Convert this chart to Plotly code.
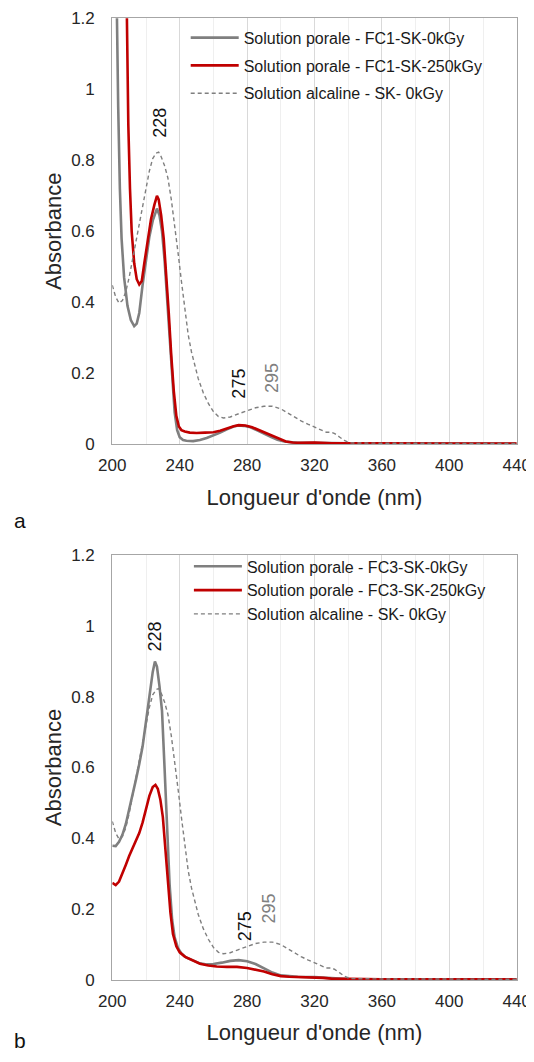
import plotly.graph_objects as go

# ---------------- Data ----------------
# (a) Solution porale - FC1-SK-0kGy
wl_fc1_0 = [201, 202.6, 203.5, 204.5, 205.5, 207, 209, 211, 213, 214.5, 216, 218, 220, 222, 224,
            225.5, 226.5, 228, 229.5, 231, 232.5, 234, 235.5, 237, 238.5, 240, 242, 244, 248, 252,
            256, 260, 264, 268, 272, 275, 278, 282, 286, 290, 294, 298, 302, 306, 310, 320, 330,
            340, 360, 380, 400, 420, 440]
abs_fc1_0 = [1.8, 1.2, 0.95, 0.72, 0.58, 0.47, 0.39, 0.35, 0.333, 0.34, 0.37, 0.45, 0.52, 0.585, 0.63,
             0.655, 0.664, 0.645, 0.6, 0.52, 0.41, 0.29, 0.18, 0.09, 0.04, 0.02, 0.012, 0.01, 0.009, 0.012,
             0.018, 0.025, 0.033, 0.042, 0.05, 0.053, 0.052, 0.048, 0.04, 0.03, 0.021, 0.013, 0.008, 0.005, 0.004, 0.004, 0.003,
             0.003, 0.003, 0.003, 0.002, 0.002, 0.002]

# (a) Solution porale - FC1-SK-250kGy
wl_fc1_250 = [207, 208.7, 209.5, 210.5, 211.5, 213, 214.5, 216, 217.5, 219, 221, 223, 225, 226.5, 227.5,
              229, 230.5, 232, 233.5, 235, 236.5, 238, 239.5, 241, 243, 246, 250, 255, 260, 264, 268,
              272, 275, 279, 283, 287, 291, 295, 299, 303, 307, 312, 320, 324, 330, 340, 350, 360,
              370, 380, 400, 420, 440]
abs_fc1_250 = [1.8, 1.2, 0.9, 0.72, 0.6, 0.51, 0.465, 0.45, 0.46, 0.51, 0.58, 0.635, 0.675, 0.70, 0.69,
               0.645, 0.58, 0.48, 0.37, 0.25, 0.15, 0.08, 0.05, 0.04, 0.036, 0.033, 0.032, 0.033, 0.034, 0.038, 0.045,
               0.051, 0.054, 0.053, 0.048, 0.04, 0.031, 0.022, 0.014, 0.008, 0.005, 0.004, 0.005, 0.004, 0.003, 0.003, 0.004, 0.003,
               0.003, 0.002, 0.002, 0.002, 0.002]

# (a) and (b) Solution alcaline - SK- 0kGy
wl_alc = [200, 202, 204, 206, 208, 210, 212, 214, 216, 218, 220, 222, 224, 226, 227.5, 229, 231, 233,
          235, 237, 239, 241, 243, 245, 247, 249, 251, 254, 257, 260, 263, 266, 270, 275, 280, 285,
          290, 295, 300, 304, 308, 312, 316, 320, 324, 327, 330, 332, 335, 338, 341, 350, 360, 380,
          400, 420, 440]
abs_alc = [0.448, 0.415, 0.398, 0.405, 0.43, 0.47, 0.52, 0.57, 0.62, 0.67, 0.72, 0.77, 0.805, 0.82, 0.823,
           0.81, 0.785, 0.75, 0.69, 0.62, 0.54, 0.46, 0.38, 0.31, 0.26, 0.22, 0.185, 0.145, 0.115, 0.092, 0.078,
           0.074, 0.077, 0.086, 0.095, 0.103, 0.107, 0.107, 0.1, 0.088, 0.076, 0.066, 0.057, 0.048, 0.04, 0.034,
           0.034, 0.03, 0.02, 0.01, 0.004, 0.003, 0.003, 0.003, 0.002, 0.002, 0.002]

# (b) Solution porale - FC3-SK-0kGy
wl_fc3_0 = [200, 202, 204, 206, 208, 210, 212, 214, 216, 218, 220, 222, 224, 225.3, 226.5, 228, 229.5,
            231, 232.5, 234, 235.5, 237, 239, 241, 244, 248, 252, 256, 260, 265, 270, 275, 280, 285,
            290, 295, 300, 305, 310, 320, 330, 340, 360, 380, 400, 420, 440]
abs_fc3_0 = [0.379, 0.378, 0.39, 0.41, 0.44, 0.48, 0.52, 0.565, 0.61, 0.66, 0.73, 0.8, 0.87, 0.899, 0.885,
             0.83, 0.76, 0.6, 0.42, 0.27, 0.17, 0.12, 0.09, 0.075, 0.063, 0.054, 0.047, 0.044, 0.045, 0.049,
             0.054, 0.056, 0.053, 0.045, 0.033, 0.021, 0.013, 0.01, 0.009, 0.008, 0.005, 0.003, 0.002, 0.002,
             0.002, 0.002, 0.002]

# (b) Solution porale - FC3-SK-250kGy
wl_fc3_250 = [200, 202, 204, 206, 208, 210, 212, 214, 216, 218, 220, 222, 224, 225.6, 227, 228.5, 230,
              231.5, 233, 234.5, 236, 238, 240, 243, 248, 252, 257, 262, 268, 274, 280, 285, 290, 295,
              300, 305, 312, 320, 325, 330, 340, 360, 380, 400, 420, 440]
abs_fc3_250 = [0.274, 0.268, 0.278, 0.3, 0.325, 0.35, 0.372, 0.392, 0.415, 0.445, 0.48, 0.52, 0.545, 0.551,
               0.54, 0.51, 0.46, 0.38, 0.28, 0.19, 0.13, 0.095, 0.078, 0.066, 0.054, 0.046, 0.041, 0.038, 0.037,
               0.037, 0.034, 0.03, 0.024, 0.016, 0.011, 0.009, 0.008, 0.008, 0.006, 0.004, 0.003, 0.002, 0.002,
               0.002, 0.002, 0.002]

# Peak labels: (text, wavelength, absorbance position, colour key)
peaks_a = [("228", 228.2, 0.905, "k"), ("275", 275.0, 0.17, "k"), ("295", 295.2, 0.186, "g")]
peaks_b = [("228", 225.6, 0.971, "k"), ("275", 278.4, 0.153, "k"), ("295", 293.0, 0.202, "g")]

x_ticks = [200, 240, 280, 320, 360, 400, 440]

names_a = ["Solution porale - FC1-SK-0kGy", "Solution porale - FC1-SK-250kGy", "Solution alcaline - SK- 0kGy"]
names_b = ["Solution porale - FC3-SK-0kGy", "Solution porale - FC3-SK-250kGy", "Solution alcaline - SK- 0kGy"]

# ---------------- Styling ----------------
FONT = "Liberation Sans, Arial, sans-serif"
GRAY = "#7f7f7f"
RED = "#c00000"
OFF = 8                      # page body margin in the browser
W, H = 534 - OFF, 1062 - 2 * OFF


def px_x(p):  # page x pixel -> paper fraction
    return (p - OFF) / W


def px_y(p):  # page y pixel -> paper fraction
    return 1 - (p - OFF) / H


fig = go.Figure()


def add_set(xs, ys, names, xa, ya, leg):
    styles = [dict(color=GRAY, width=2.6), dict(color=RED, width=2.6),
              dict(color=GRAY, width=1.4, dash="4px,3px")]
    for i, (x, y, n) in enumerate(zip(xs, ys, names)):
        fig.add_trace(go.Scatter(x=x, y=y, mode="lines", name=n, line=styles[i],
                                 xaxis=xa, yaxis=ya, legend=leg, legendgroup=leg + str(i)))


add_set([wl_fc1_0, wl_fc1_250, wl_alc], [abs_fc1_0, abs_fc1_250, abs_alc], names_a, "x", "y", "legend")
add_set([wl_fc3_0, wl_fc3_250, wl_alc], [abs_fc3_0, abs_fc3_250, abs_alc], names_b, "x2", "y2", "legend2")

xdom = [px_x(112.3), px_x(516.7)]
ydom_a = [px_y(444.3), px_y(18.3)]
ydom_b = [px_y(980.0), px_y(555.0)]

xcommon = dict(range=[200, 440], tickvals=x_ticks, showline=True, mirror=True, linecolor="#a6a6a6",
               linewidth=1.2, showgrid=True, gridcolor="#d9d9d9", gridwidth=1, zeroline=False,
               ticks="", ticklabelstandoff=5, automargin=False,
               minor=dict(dtick=20, tick0=200, showgrid=True, gridcolor="#efefef", gridwidth=1),
               tickfont=dict(family=FONT, size=17, color="#262626"),
               title=dict(text="Longueur d'onde (nm)", font=dict(family=FONT, size=22, color="#262626"),
                          standoff=15))
ycommon = dict(range=[0, 1.2], dtick=0.2, tick0=0, showline=True, mirror=True, linecolor="#a6a6a6",
               linewidth=1.2, showgrid=False, zeroline=False, ticks="", ticklabelstandoff=13,
               automargin=False,
               tickfont=dict(family=FONT, size=17, color="#262626"),
               title=dict(text="Absorbance", font=dict(family=FONT, size=22, color="#262626"), standoff=3))

legcommon = dict(font=dict(family=FONT, size=16, color="#1a1a1a"), bgcolor="rgba(0,0,0,0)",
                 xanchor="left", yanchor="top", traceorder="grouped", itemwidth=48)

fig.update_layout(
    width=W, height=H, margin=dict(l=0, r=0, t=0, b=0, autoexpand=False),
    paper_bgcolor="white", plot_bgcolor="white",
    font=dict(family=FONT),
    xaxis=dict(domain=xdom, anchor="y", **xcommon),
    yaxis=dict(domain=ydom_a, anchor="x", **ycommon),
    xaxis2=dict(domain=xdom, anchor="y2", **xcommon),
    yaxis2=dict(domain=ydom_b, anchor="x2", **ycommon),
    legend=dict(x=px_x(185.7), y=px_y(20.7), tracegroupgap=4, **legcommon),
    legend2=dict(x=px_x(188.9), y=px_y(549.4), tracegroupgap=0, **legcommon),
    showlegend=True,
)

colmap = {"k": "#111111", "g": "#808080"}
for peaks, xa, ya in [(peaks_a, "x", "y"), (peaks_b, "x2", "y2")]:
    for txt, xv, yv, c in peaks:
        fig.add_annotation(x=xv, y=yv, xref=xa, yref=ya, text=txt, showarrow=False, textangle=-90,
                           xanchor="center", yanchor="middle",
                           font=dict(family=FONT, size=18, color=colmap[c]))

# panel letters
fig.add_annotation(x=px_x(19.5), y=px_y(520), xref="paper", yref="paper", text="a",
                   xanchor="center", yanchor="middle",
                   showarrow=False, font=dict(family=FONT, size=21, color="#111111"))
fig.add_annotation(x=px_x(19.5), y=0, xref="paper", yref="paper", text="b",
                   xanchor="center", yanchor="bottom",
                   showarrow=False, font=dict(family=FONT, size=21, color="#111111"))

fig.write_html("out.html")
